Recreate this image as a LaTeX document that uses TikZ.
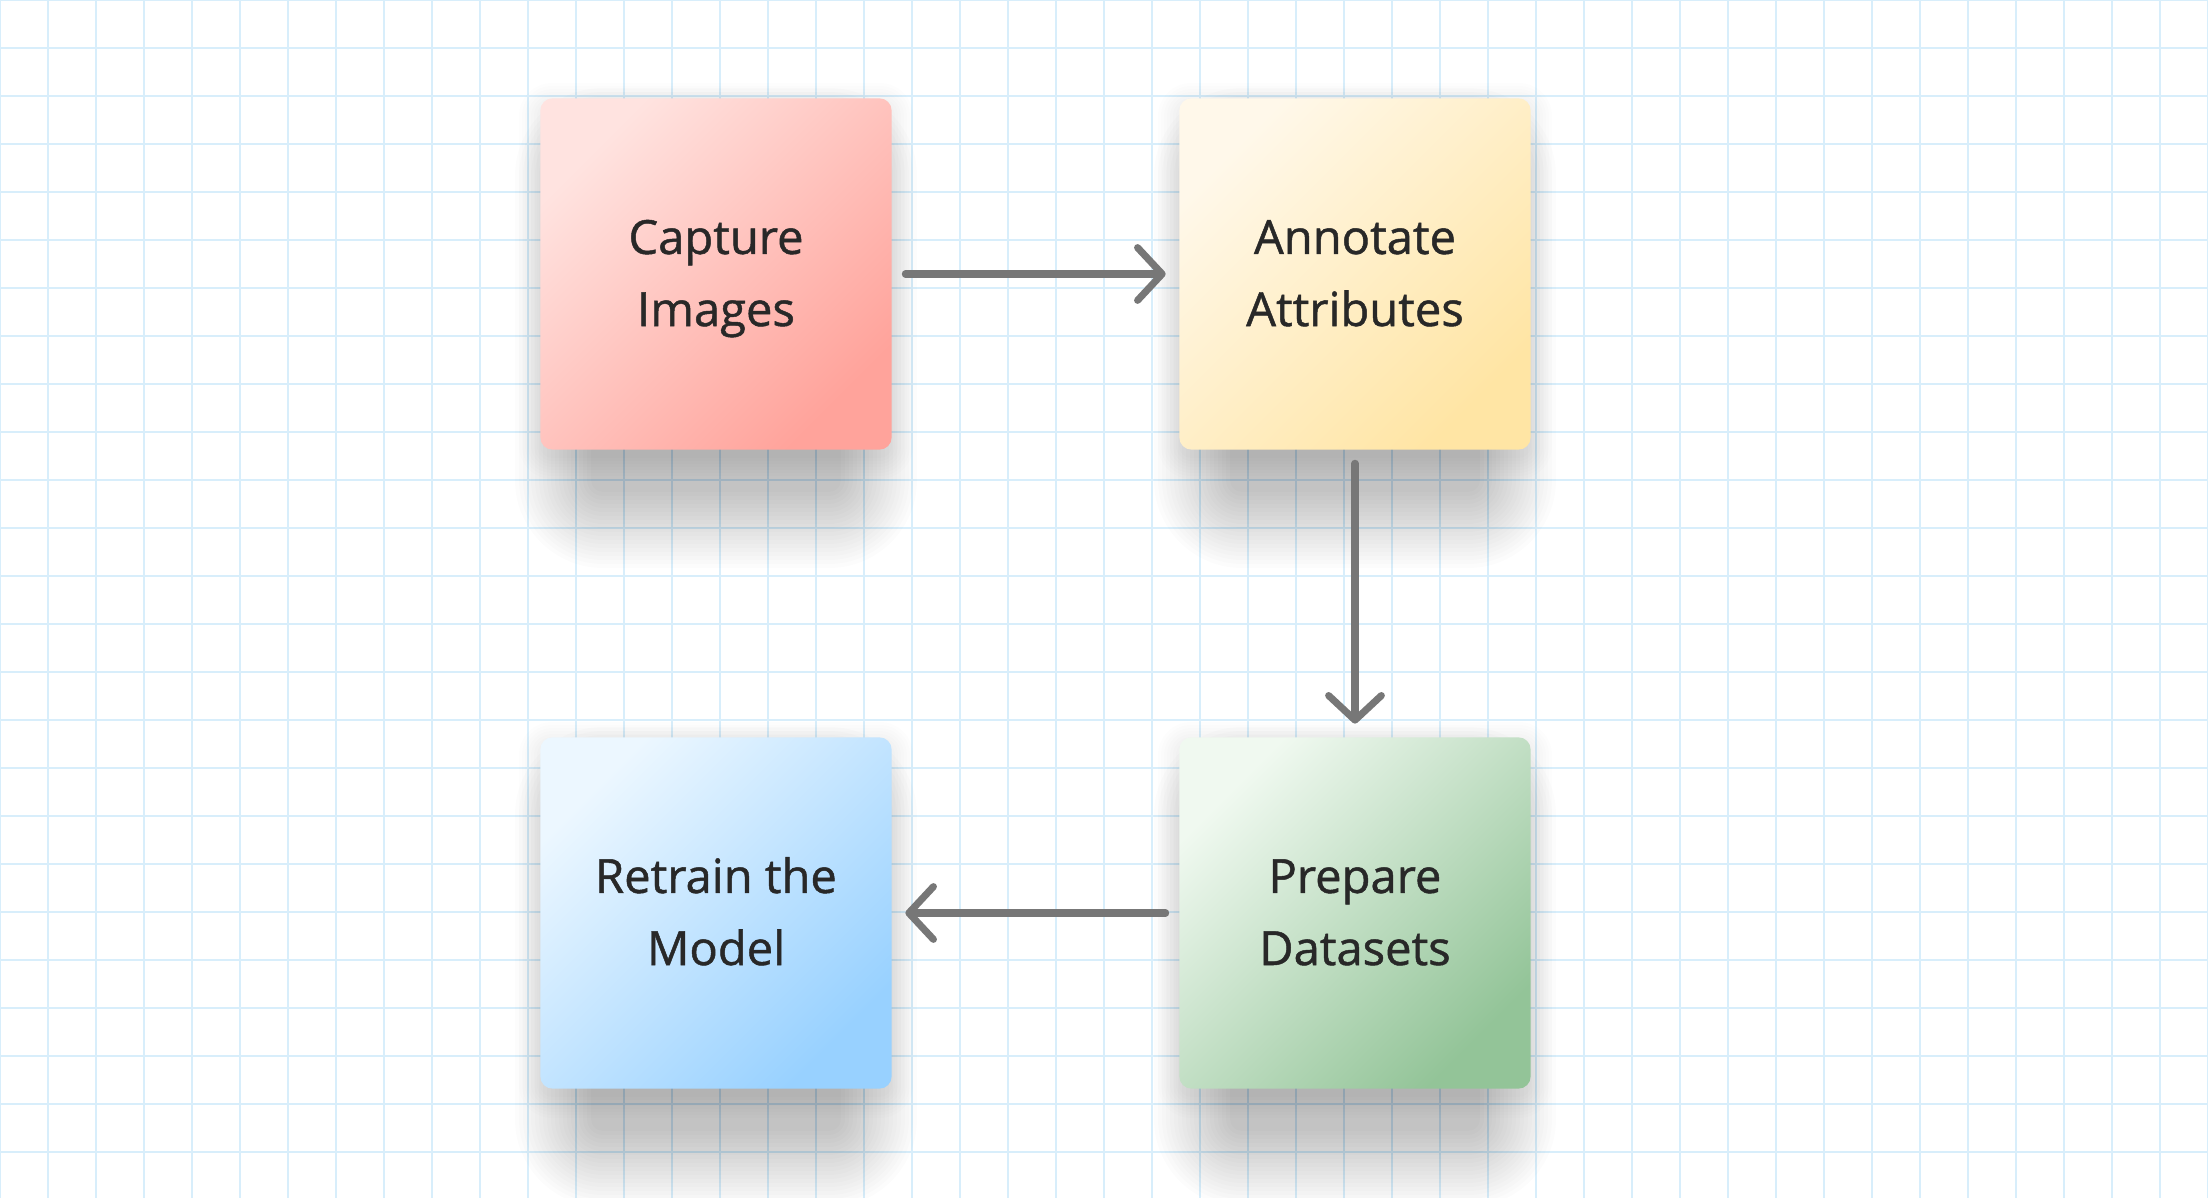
\documentclass[tikz,border=0pt]{standalone}
\usepackage{fontspec}
\setmainfont{Open Sans}[FakeBold=1]
\usetikzlibrary{arrows.meta,calc}
\definecolor{gridblue}{HTML}{D8EEFB}
\definecolor{arrowgray}{HTML}{777777}
\definecolor{labeltext}{HTML}{282828}
\definecolor{redlight}{HTML}{FFE3E0}
\definecolor{reddark}{HTML}{FFA39B}
\definecolor{yellowlight}{HTML}{FFF8EA}
\definecolor{yellowdark}{HTML}{FFE5A4}
\definecolor{greenlight}{HTML}{F0F9F0}
\definecolor{greendark}{HTML}{93C498}
\definecolor{bluelight}{HTML}{ECF7FF}
\definecolor{bluedark}{HTML}{98D1FF}
\tikzstyle{gridline}=[gridblue,line width=0.57pt]
\tikzstyle{stepbox}=[rounded corners=0.12cm,minimum width=3.51cm,minimum height=3.51cm,inner sep=0pt,
    align=center,text=labeltext,font=\fontsize{13.4}{20.5}\selectfont,text height=29.6pt,text depth=0pt]
\tikzstyle{flow}=[arrowgray,line width=2pt,line cap=round,
    -{Straight Barb[length=7pt,width=15pt,line width=2pt,line join=round,line cap=round]},
    shorten <=0.13cm,shorten >=0.13cm]
% Syntax: {name}{center}{light colour}{dark colour}{text}
\newcommand{\newstep}[5]{
	\coordinate (#1-c) at (#2);
	% soft drop shadow, stacked layers
	\foreach \i in {0,...,19} {
		\pgfmathsetmacro{\grow}{4*\i}
		\pgfmathsetmacro{\rc}{(12+\grow)*0.2845}
		\fill[black,opacity=0.0105,rounded corners=\rc pt]
			($(#1-c)+(-125-\grow,-110-\grow)$) rectangle ($(#1-c)+(125+\grow,218+\grow)$);
	}
	\foreach \i in {0,...,7} {
		\pgfmathsetmacro{\grow}{3*\i}
		\pgfmathsetmacro{\rc}{(12+\grow)*0.2845}
		\fill[black,opacity=0.007,rounded corners=\rc pt]
			($(#1-c)+(-176-\grow,-170-\grow)$) rectangle ($(#1-c)+(176+\grow,184+\grow)$);
	}
	\node[stepbox,top color=#3,bottom color=#4,shading angle=45] (#1) at (#1-c) {#5};
}
\begin{document}
\begin{tikzpicture}[x=0.01cm,y=-0.01cm]
	\useasboundingbox (0,0) rectangle (2208,1198);
	\fill[white] (0,0) rectangle (2208,1198);
	% grid paper, 48px cells
	\foreach \gx in {0,48,...,2208} {
		\draw[gridline] (\gx,0) -- (\gx,1198);
	}
	\foreach \gy in {0,48,...,1198} {
		\draw[gridline] (0,\gy) -- (2208,\gy);
	}
	\newstep{capture}{716,274}{redlight}{reddark}{Capture\\Images}
	\newstep{annotate}{1355,274}{yellowlight}{yellowdark}{Annotate\\Attributes}
	\newstep{prepare}{1355,913}{greenlight}{greendark}{Prepare\\Datasets}
	\newstep{retrain}{716,913}{bluelight}{bluedark}{Retrain the\\Model}
	\draw[flow] (capture) -- (annotate);
	\draw[flow] (annotate) -- (prepare);
	\draw[flow] (prepare) -- (retrain);
\end{tikzpicture}
\end{document}
